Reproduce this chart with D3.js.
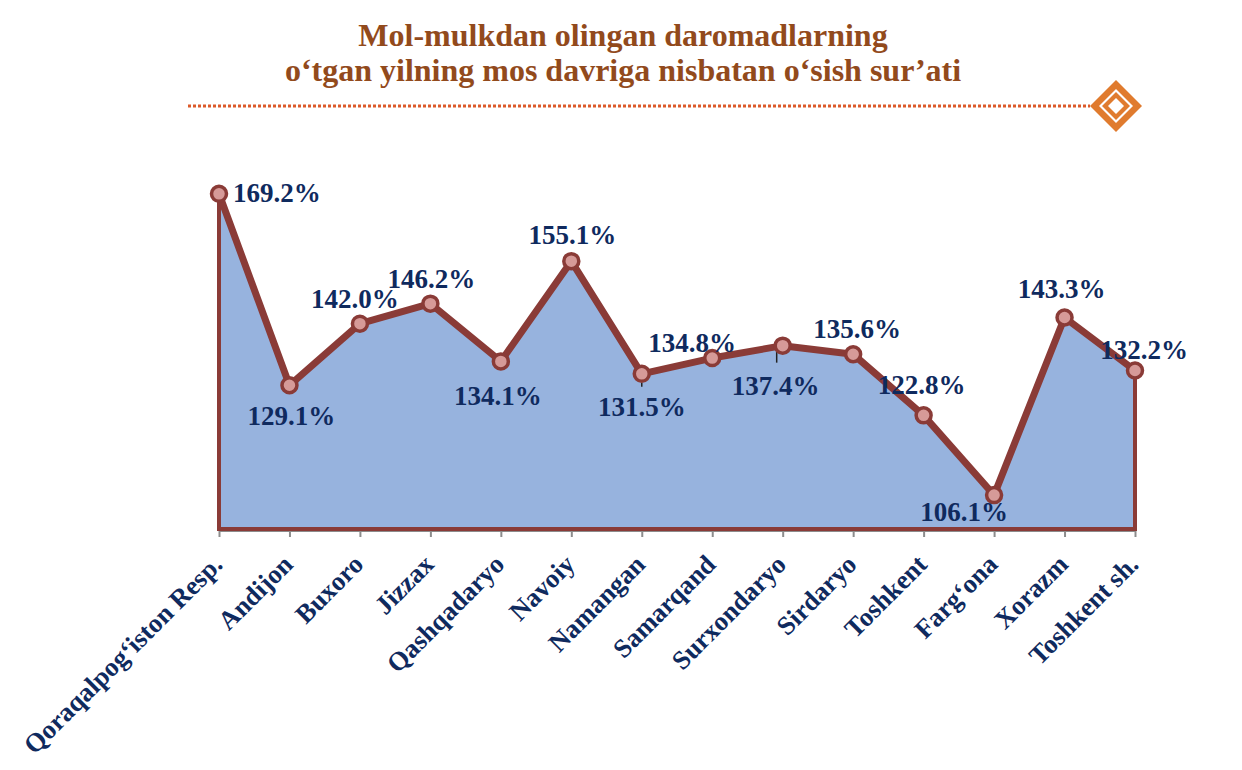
<!DOCTYPE html>
<html><head><meta charset="utf-8">
<script src="https://cdn.jsdelivr.net/npm/d3@7"></script>
<style>
html,body{margin:0;padding:0;background:#fff;}
svg{display:block;}
</style></head>
<body>
<svg id="c" width="1242" height="770"></svg>
<script>
// ---- data ----
const titleLines = ["Mol-mulkdan olingan daromadlarning", "o‘tgan yilning mos davriga nisbatan o‘sish sur’ati"];
const categories = ["Qoraqalpog‘iston Resp.", "Andijon", "Buxoro", "Jizzax", "Qashqadaryo", "Navoiy", "Namangan", "Samarqand", "Surxondaryo", "Sirdaryo", "Toshkent", "Farg‘ona", "Xorazm", "Toshkent sh."];
const values = [169.2, 129.1, 142.0, 146.2, 134.1, 155.1, 131.5, 134.8, 137.4, 135.6, 122.8, 106.1, 143.3, 132.2];

// ---- layout (label offsets from point: dx, baseline dy, anchor) ----
const labelPos = [
  [14, 8, "start"], [2, 40, "middle"], [-5, -16, "middle"], [1, -16, "middle"],
  [-3, 44, "middle"], [1, -17, "middle"], [0, 42, "middle"], [-20, -6, "middle"],
  [-7, 49, "middle"], [4, -16, "middle"], [-2, -21, "middle"], [-30, 26, "middle"],
  [-3, -19, "middle"], [9, -11, "middle"]
];

const svg = d3.select("#c");
const serif = "'Liberation Serif','Times New Roman',serif";
const navy = "#0f2a5e";
const brown = "#8a3b37";

// title
svg.append("g").selectAll("text").data(titleLines).join("text")
  .attr("x", 623).attr("y", (d, i) => 46 + i * 35)
  .attr("text-anchor", "middle")
  .attr("font-family", serif).attr("font-weight", "bold").attr("font-size", 32)
  .attr("fill", "#924a1c")
  .text(d => d);

// dotted rule + diamond
svg.append("line").attr("x1", 188).attr("x2", 1090).attr("y1", 106).attr("y2", 106)
  .attr("stroke", "#dc5a2a").attr("stroke-width", 3).attr("stroke-dasharray", "3,2");
const dia = (cx, cy, r) => `M${cx},${cy - r}L${cx + r},${cy}L${cx},${cy + r}L${cx - r},${cy}Z`;
svg.append("path").attr("d", dia(1116, 106, 26)).attr("fill", "#e07b2e");
svg.append("path").attr("d", dia(1116, 106, 17)).attr("fill", "#fff");
svg.append("path").attr("d", dia(1116, 106, 14)).attr("fill", "#e07b2e");
svg.append("path").attr("d", dia(1116, 106, 8)).attr("fill", "#fff");

// scales
const x = d3.scalePoint().domain(categories).range([219, 1135]);
const y = d3.scaleLinear().domain([99, 170]).range([529, 190]);
const pts = categories.map((c, i) => ({c, v: values[i], i}));

// x axis
const axisG = svg.append("g").attr("transform", "translate(0,531)")
  .call(d3.axisBottom(x).tickSize(6).tickFormat(""));
axisG.select(".domain").attr("stroke", "#8c8c8c").attr("stroke-width", 2).attr("d", `M${x.range()[0]},0H${x.range()[1]}`);
axisG.selectAll(".tick line").attr("stroke", "#8c8c8c").attr("stroke-width", 2);

// area
const area = d3.area().x(d => x(d.c)).y0(y(99)).y1(d => y(d.v));
svg.append("path").datum(pts).attr("d", area)
  .attr("fill", "#97b3de").attr("stroke", brown).attr("stroke-width", 4).attr("stroke-linejoin", "miter");

// line
const line = d3.line().x(d => x(d.c)).y(d => y(d.v));
svg.append("path").datum(pts).attr("d", line)
  .attr("fill", "none").attr("stroke", brown).attr("stroke-width", 7).attr("stroke-linejoin", "round");

// small leader ticks
const leaders = [[6, 9, 13], [8, 6, 17]];
svg.append("g").selectAll("line").data(leaders).join("line")
  .attr("x1", d => x(categories[d[0]]) - (d[0] === 8 ? 6 : 0))
  .attr("x2", d => x(categories[d[0]]) - (d[0] === 8 ? 6 : 0))
  .attr("y1", d => y(values[d[0]]) + d[1]).attr("y2", d => y(values[d[0]]) + d[2])
  .attr("stroke", "#222").attr("stroke-width", 1.5);

// markers
svg.append("g").selectAll("circle").data(pts).join("circle")
  .attr("cx", d => x(d.c)).attr("cy", d => y(d.v)).attr("r", 7.5)
  .attr("fill", "#d69a98").attr("stroke", brown).attr("stroke-width", 3.5);

// data labels
svg.append("g").selectAll("text").data(pts).join("text")
  .attr("x", d => x(d.c) + labelPos[d.i][0])
  .attr("y", d => y(d.v) + labelPos[d.i][1])
  .attr("text-anchor", d => labelPos[d.i][2])
  .attr("font-family", serif).attr("font-weight", "bold").attr("font-size", 27)
  .attr("fill", navy)
  .text(d => d.v.toFixed(1) + "%");

// category labels
svg.append("g").selectAll("text").data(categories).join("text")
  .attr("transform", d => `translate(${x(d) + 5},566) rotate(-45)`)
  .attr("text-anchor", "end")
  .attr("font-family", serif).attr("font-weight", "bold").attr("font-size", 26.5)
  .attr("fill", navy)
  .text(d => d);
</script>
</body></html>
